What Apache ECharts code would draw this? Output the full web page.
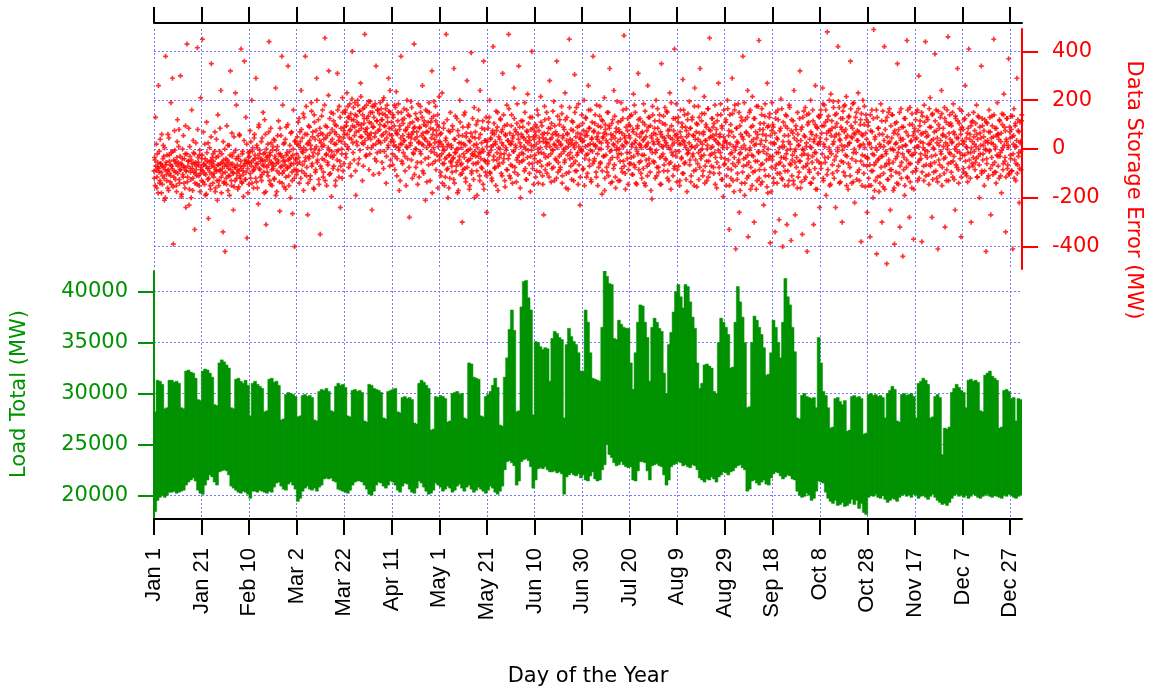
<!DOCTYPE html>
<html>
<head>
<meta charset="utf-8">
<title>Load Total and Data Storage Error</title>
<script src="https://cdn.jsdelivr.net/npm/echarts@6.0.0/dist/echarts.min.js"></script>
<style>
  html, body { margin: 0; padding: 0; background: #fff; }
  #main { width: 1152px; height: 692px; }
</style>
</head>
<body>
<div id="main"></div>
<script>
// x axis ticks: every 20 days
var tickDays = [0, 20, 40, 60, 80, 100, 120, 140, 160, 180, 200, 220, 240, 260, 280, 300, 320, 340, 360];
var tickLabels = ['Jan 1', 'Jan 21', 'Feb 10', 'Mar 2', 'Mar 22', 'Apr 11', 'May 1', 'May 21', 'Jun 10', 'Jun 30',
  'Jul 20', 'Aug 9', 'Aug 29', 'Sep 18', 'Oct 8', 'Oct 28', 'Nov 17', 'Dec 7', 'Dec 27'];
var errorTicks = [-400, -200, 0, 200, 400];
var loadTicks = [20000, 25000, 30000, 35000, 40000];

// daily maximum of load total (MW), day 0 = Jan 1
var loadHigh = [
  28200, 31300, 31200, 30900, 28500, 28600, 31300, 31300, 31100, 31200,
  31000, 28600, 28500, 32200, 32300, 32100, 32000, 31500, 29400, 29300,
  32200, 32400, 32300, 32000, 31600, 28900, 28800, 33000, 33300, 33100,
  32800, 32500, 28600, 28500, 31400, 31500, 31200, 31000, 31300, 30800,
  27800, 31000, 31200, 30900, 30700, 30500, 28200, 28300, 31400, 31500,
  31100, 31200, 30800, 27400, 27500, 29900, 30100, 30000, 29900, 29700,
  27700, 27800, 29800, 29900, 29700, 29800, 29600, 27400, 27300, 30200,
  30400, 30300, 30500, 30200, 28300, 28200, 30700, 31000, 30800, 30900,
  30600, 27800, 27700, 30300, 30400, 30200, 30300, 30100, 27300, 27200,
  30900, 30800, 30500, 30400, 30300, 30100, 27600, 27500, 30200, 30300,
  30400, 30500, 28200, 28100, 29600, 29700, 29500, 29600, 29400, 27100,
  27000, 31000, 31300, 31100, 30800, 30500, 26400, 26500, 29700, 29600,
  29800, 29700, 29500, 27200, 27300, 30000, 30100, 30200, 29900, 30000,
  27600, 27500, 33000, 32900, 31600, 31500, 31400, 27800, 27700, 29700,
  29900, 30200, 30800, 31500, 30600, 26900, 26800, 31600, 33500, 36300,
  38200, 36200, 28200, 28300, 38500, 41000, 41100, 39400, 38200, 27900,
  35100, 35000, 34600, 34300, 34500, 34400, 31200, 35400, 36100, 35900,
  35500, 35300, 27600, 34800, 36400, 35600, 35100, 34800, 34000, 32200,
  32200, 38200, 37000, 34000, 31500, 31400, 31300, 31200, 36500, 42100,
  41500, 40800, 40700, 35400, 35300, 37200, 36800, 36500, 36400, 36400,
  33000, 30400, 34000, 37000, 38700, 38600, 37000, 35500, 31200, 36500,
  37400, 37000, 36400, 36100, 32000, 30000, 34800, 36000, 38000, 40000,
  40700, 39500, 38400, 40700, 40500, 39000, 37500, 36400, 33000, 30500,
  31000, 32800, 32900, 32700, 32500, 30200, 30000, 35000, 37400, 37000,
  36500, 35800, 32500, 32600, 37000, 40500, 39000, 37500, 35000, 28600,
  28700, 35000, 37600, 37200, 36500, 35800, 34500, 31800, 31900, 34000,
  37200, 36500, 35000, 33500, 37000, 41300, 39500, 38700, 36500, 34100,
  27600, 27500, 29800, 30000, 29700, 29600, 29500, 29600, 28600, 35500,
  33000, 30200, 29800, 28600, 26600, 26700, 29500, 29600, 29200, 28900,
  29300, 26300, 26400, 29700, 29800, 29600, 29700, 29500, 26000, 26100,
  29900, 30000, 29800, 29900, 29700, 29800, 29600, 27600, 30000, 30300,
  30700, 30400, 27300, 27200, 29900, 30000, 29800, 29900, 30000, 29700,
  27600, 31000, 31200, 31500, 31300, 30900, 27600, 27700, 29700, 29900,
  29600, 24000, 26600, 26500, 26700, 30100, 30500, 30900, 30600, 30300,
  30100, 28600, 31300, 31400, 31200, 31300, 31100, 28300, 28200, 31800,
  32000, 32200, 31700, 31500, 31300, 26600, 26700, 30300, 30400, 30200,
  29500, 29600, 27300, 29500, 29400
];

// daily minimum of load total (MW)
var loadLow = [
  18400, 19500, 19800, 20000, 19800, 20000, 20300, 20300, 20400, 20200,
  20300, 20400, 20500, 21000, 21300, 21500, 21700, 21400, 20500, 20200,
  20100, 21000, 21500, 22000, 21800, 21300, 21000, 22300, 22400, 22500,
  22400, 22000, 20900, 20700, 20500, 20300, 20200, 20400, 20300, 20100,
  19700, 20400, 20400, 20300, 20500, 20400, 20300, 20200, 20400, 20300,
  20800, 21200, 21300, 20900, 20600, 20500, 21100, 21300, 21000, 20600,
  19400, 19700, 20400, 20700, 20900, 20600, 20500, 20700, 20400, 20800,
  21000, 21600, 21700, 21600, 21700, 21400, 21300, 20600, 20500, 20400,
  20300, 20200, 20500, 21000, 21300, 21400, 21400, 21300, 21000, 20600,
  20100, 20000, 20400, 21000, 21300, 21200, 20900, 20700, 21000, 21400,
  21300, 21000, 20500, 20300, 20900, 21200, 21100, 20600, 20300, 20200,
  20700, 21400, 21200, 20800, 20400, 20100, 20200, 20500, 21200, 21000,
  20800, 20400, 20600, 20900, 20700, 20300, 20500, 20900, 21100, 20700,
  20400, 20800, 21000, 20600, 20300, 20500, 20800, 20600, 20400, 20200,
  20500, 20900, 20700, 20300, 20100, 20400, 20900, 22500, 23300, 23400,
  23200, 22900, 21000, 21400, 23300, 23500, 23600, 23400, 22800, 20700,
  21500, 22600, 22700, 22600, 22800, 22500, 22300, 22300, 22400, 22200,
  22300, 22100, 20100, 21800, 22000, 22200, 22000, 21900, 22100, 21700,
  22000, 21500, 21400, 21900, 22300, 21600, 21400, 21500, 22500, 23000,
  25000, 24000, 23700, 23200, 22900, 23000, 23300, 23000, 22800, 22700,
  22800, 21500, 21400, 22400, 23300, 23300, 23200, 22400, 21500, 22900,
  23000, 23100, 22900, 22800, 22000, 21000, 21500, 22800, 23000, 23100,
  23300, 23200, 22900, 23000, 22800, 22700, 23000, 22900, 22500, 21700,
  21500, 21300, 21600, 21500, 21800, 21600, 21300, 21800, 22000, 22300,
  22200, 22000, 22300, 22400, 22700, 22900, 23000, 22700, 22500, 20400,
  20600, 21400, 21500, 21200, 21000, 21300, 21500, 21100, 21000, 21700,
  22100, 22300, 22200, 21900, 21600, 21800, 22000, 21900, 21600, 21500,
  20400, 20000, 19800, 19900, 20200, 20000, 19500, 19700, 20400, 21400,
  21300, 21200, 20300, 19700, 19400, 19200, 19500, 19000, 19100, 19300,
  18900, 19000, 19200, 19600, 19100, 19500, 18700, 19200, 18300, 18100,
  19800, 20000, 19900, 20100, 19800, 19700, 20000, 19600, 19300, 19500,
  19700, 19600, 19400, 19800, 20000, 20100, 19900, 20000, 19800, 20100,
  20000, 19700, 19900, 20000, 19800, 19600, 19900, 20100, 19800, 19500,
  19300, 19100, 19200, 19000, 19300, 19700, 20000, 20100, 19900, 20000,
  19800, 20000, 19700, 19900, 20100, 20000, 19800, 19700, 19900, 20000,
  20100, 19900, 19800, 20000, 19900, 19800, 19700, 20000, 19900, 20100,
  20000, 19800, 19700, 19900, 20000
];

// data storage error (MW) at hours 3, 9, 15, 21 of each day, 5 days per row
var errorSetA = [
  -120, -45, 130, -88, -160, -20, -75, 260, -95, -140, 40, -60, -180, -70, -110, 15, -30, -210, -85, 380,
  -55, -130, -90, 60, -170, -25, -100, -65, 190, -145, -80, -10, -390, -115, 75, -50, -95, -150, -35, 120,
  -70, 10, -125, -85, 300, -60, -185, -40, -105, 55, -140, -75, -20, -240, -90, 430, -115, -50, 85, -165,
  -30, -95, -200, 160, -80, -120, -15, -60, -330, -100, 25, -70, -145, 80, -55, -110, -25, -175, 210, -85,
  -40, 450, -135, -65, -100, 20, -190, -70, 110, -50, -125, -285, -80, 5, -150, -45, 350, -105, -60, -20,
  -115, -75, 70, -160, -35, -90, -210, 140, -65, -130, -10, -85, 240, -180, -55, -100, 30, -140, -70, -420,
  -60, -120, 95, -45, -170, -80, 15, -110, 320, -65, -150, -30, -95, -250, 50, -75, -130, -5, 180, -100,
  -85, -40, -155, 60, -110, -70, 410, -135, -20, -90, -195, 35, -60, -125, 130, -50, -365, -80, -15, -145,
  -30, 75, -120, -55, 200, -10, -90, -160, 45, -40, -75, 290, -135, 5, -60, -225, 100, -20, -85, -50,
  30, -105, -45, 150, -70, -180, -15, 60, -310, -35, -95, 20, -65, 440, -130, -25, 85, -55, -150, -5,
  -80, 40, -120, -30, 250, -60, -175, 10, -45, 115, -100, -255, -20, 55, -70, -140, 180, -35, -90, 25,
  -50, -165, 90, -15, -75, 340, -110, -40, 15, -200, -60, 70, -130, -25, 160, -85, -400, 35, -45, -105,
  20, -60, 110, -35, -140, 70, 5, 240, -90, 45, -15, -170, 130, -50, 380, -5, -110, 60, -270, 25,
  -40, 90, -125, 15, 190, -70, 50, -30, -160, 140, 0, -95, 75, 290, -55, -20, 120, -145, 35, -350,
  65, -80, 10, 160, -115, 40, -45, 455, 95, -25, -150, 55, -65, 220, -5, 125, -100, 30, -195, 80,
  -35, 145, -70, 20, 100, -130, 60, -10, 310, -85, 35, 175, -50, -240, 85, 0, -120, 150, 45, -60,
  60, 150, -20, 95, 230, 10, 130, -75, 45, 185, 80, -110, 120, 400, 25, 170, -45, 90, 140, -190,
  30, 110, 200, -60, 75, 155, -5, 270, 100, 50, -130, 165, 20, 125, 470, 70, -30, 180, 85, 5,
  135, -85, 55, 195, 40, 105, -250, 150, 15, 90, 175, -40, 65, 340, 115, -15, 160, 35, -100, 80,
  190, 25, 120, -55, 145, 60, 210, -10, 95, 165, -140, 45, 130, 5, 290, 85, -70, 150, 30, 110,
  40, -65, 130, 15, 180, -30, 75, 235, -110, 60, 150, 5, -170, 95, 20, 380, -50, 120, 55, -15,
  165, 35, -90, 80, 10, 200, -40, 140, 60, -280, 105, 25, 45, 170, -120, 70, -20, 430, 90, 0,
  -75, 125, 50, -145, 185, 30, 85, -10, 150, -55, 20, 260, 65, -100, 115, 40, -210, 95, 5, 155,
  70, -35, 190, 15, -130, 110, 45, 320, -60, 80, 135, -15, 25, 175, -85, 55, 100, -160, 30, 215,
  -30, 60, -110, 20, 230, -60, -5, 105, -150, -40, 35, 470, -85, 10, -200, 75, -25, -120, 150, -55,
  5, -95, 80, -35, 330, -140, 40, -15, -70, 125, -180, 0, 55, -45, 200, -105, 25, -60, -300, 90,
  -20, 140, -80, 15, -135, 65, 280, -50, -5, 100, -165, 30, -40, 395, -90, 50, -25, -125, 170, -10,
  70, -60, 20, -190, 115, -30, 45, -110, 240, -15, -75, 85, 0, -145, 360, -45, 35, -95, 130, -260,
  30, -50, 110, -15, 200, -100, 45, 10, -130, 75, 420, -30, 60, -75, 20, 155, -45, 90, -170, 5,
  -60, 40, 125, -20, 70, -110, 310, 15, -40, 95, -155, 55, -5, 180, -85, 35, 470, -25, 65, -120,
  20, 140, -70, 45, -10, 250, -95, 80, 5, -135, 105, -35, 60, 340, -55, 25, -200, 115, -15, 50,
  90, -45, 10, 190, -80, 35, -125, 70, 225, -5, 50, -100, 130, -30, 15, 400, -60, 85, -145, 40,
  -25, 100, 55, -90, 160, 0, -140, 75, 30, -50, 215, -15, 95, -110, 45, -270, 65, 120, -35, 10,
  150, -65, 25, 85, -115, 280, 40, -20, 105, -80, 60, -5, 195, -130, 15, 70, -45, 360, 35, -95,
  55, -30, 120, -75, 20, 175, -140, 45, 90, -10, -55, 230, 5, -100, 130, 60, -165, 25, 450, -40,
  -15, 80, -125, 35, 110, -60, 15, 305, -90, 50, 170, -25, 65, -145, 10, 95, -230, 40, -5, 140,
  30, -85, 75, 200, -40, 10, 125, -115, 55, -20, 260, 85, -70, 20, 160, -135, 45, -10, 380, 70,
  -50, 105, 15, -95, 180, 40, -150, 65, 0, 135, -60, 90, 25, -185, 115, 50, -30, 210, -120, 80,
  35, -75, 150, 10, -110, 95, 330, -45, 60, -5, -135, 120, 20, 240, -65, 45, -160, 85, 5, -35,
  110, -20, 70, -130, 40, 190, -80, 15, 125, -50, 465, 55, -100, 30, 165, -15, 75, -145, 100, -60,
  45, 135, -35, 10, -105, 80, 225, -65, 25, 150, -140, 60, -10, 95, 310, -85, 20, 125, -50, 5,
  -120, 70, 35, 185, -25, 100, -150, 50, 15, -70, 260, 90, -40, 130, -95, 0, 55, -205, 175, 30,
  65, -55, 115, -15, 200, -110, 40, 85, -75, 20, 140, -145, 60, 350, -30, 105, 10, -90, 45, 170,
  -40, 25, 155, -120, 75, 5, -60, 230, 45, -165, 95, 15, -25, 125, -80, 410, 55, -10, 185, -135,
  35, 110, -70, 20, -130, 160, 50, -35, 90, 285, -100, 30, 140, -55, 5, 75, -175, 120, -15, 60,
  195, -45, 85, -110, 10, 130, -20, 55, -150, 250, 40, -85, 105, 15, -60, 175, -125, 65, 330, -5,
  -30, 145, 20, -90, 70, 215, -140, 35, 100, -50, 0, 165, -115, 80, 455, -25, 50, -70, 125, 10,
  90, -100, 40, 180, -35, 60, -160, 115, 25, 270, -75, 50, -15, 140, -125, 85, 5, -195, 160, 30,
  -40, 110, -150, 25, 200, -80, 55, -330, 140, -20, -120, 70, 290, -60, 10, -175, 160, -5, -410, 85,
  30, -100, 185, -45, -260, 95, -15, 130, -140, 50, 380, -70, 15, -190, 120, -35, 65, -120, 240, -360,
  -55, 150, 5, -165, 90, -25, 215, -95, 40, -300, 125, -50, 20, 175, -130, 60, -10, 445, -85, 105,
  -145, 35, 165, -60, 80, -230, 10, 135, -110, 55, -20, 270, -180, 95, -40, 145, -385, 25, -75, 190,
  -30, 90, -140, 20, -340, 125, -65, 45, -100, 160, -15, -290, 75, -55, 205, -120, 10, -400, 110, -35,
  55, -90, 140, -20, -310, 85, -150, 30, 180, -60, 0, -375, 120, -45, 65, -130, 240, -10, -270, 95,
  -75, 35, 150, -115, 15, -50, 320, -160, 80, -25, -350, 130, -5, 55, -125, 170, -70, 25, -420, 100,
  -40, 145, -95, 10, 200, -140, 60, -30, 115, -310, 40, -80, 260, -15, 90, -165, 20, 135, -55, -240,
  45, 160, -60, 95, 250, -120, 20, 180, -35, 110, -190, 65, 480, -85, 135, 5, -150, 75, 225, -20,
  85, -100, 195, 30, -45, 140, -240, 60, 105, -10, 420, -70, 170, 40, -135, 90, 15, -300, 125, -55,
  175, 10, -110, 80, 215, -30, 55, -165, 130, 25, -75, 360, 95, -140, 45, 185, -15, 65, -220, 110,
  -50, 150, 35, -95, 230, 70, -130, 15, 120, -380, 60, -25, 200, -65, 100, 5, -155, 140, 40, -260,
  -40, 110, -150, 25, -360, 75, -90, 160, -20, -200, 490, -65, 40, -130, 5, -430, 130, -45, 85, -175,
  20, -110, 185, -30, -300, 60, -155, 10, 420, -70, 115, -20, -470, 50, -125, 150, -60, 30, -250, 95,
  -85, 140, 0, -170, 65, -390, 105, -40, 25, -140, 350, -15, 80, -100, -320, 45, 165, -55, 10, -440,
  90, -35, -190, 125, 15, -75, 445, -120, 55, -10, -280, 170, -60, 35, -160, 100, -25, -370, 70, 5,
  40, -90, 150, 10, -130, 75, 300, -45, 115, -20, 60, -380, 135, 25, -70, 180, -5, 440, -110, 50,
  -35, 120, 20, -145, 90, 210, -60, 35, -280, 145, 5, -95, 70, 390, -25, 160, -120, 45, -410, 100,
  15, -65, 130, -10, 240, -150, 55, 85, -40, 170, -320, 25, 110, -85, 0, 460, -130, 65, 140, -20,
  -55, 95, 30, -115, 185, -30, 60, -250, 125, 10, -75, 330, 45, -140, 105, -15, 80, -360, 155, 35,
  20, -80, 120, -25, 260, -100, 45, 5, -135, 85, 410, -45, 60, -15, -300, 110, 30, -70, 150, -10,
  75, -55, 10, 180, -115, 40, -30, 130, -200, 65, 15, 340, -90, 95, -20, 50, -150, 120, 0, -420,
  -40, 105, 25, -110, 160, -5, 70, -270, 45, 135, -65, 20, 450, -95, 85, 10, -140, 55, 190, -30,
  60, -120, 115, -15, 30, -180, 145, 5, -60, 225, 90, -35, -340, 40, 125, -80, 15, 370, -105, 70,
  -25, 135, -90, 50, -410, 20, 165, -45, 95, -130, 10, 290, -65, 75, -15, -220, 110, 30, -85, 140
];

// data storage error (MW) at hours 0, 6, 12, 18 of each day, 5 days per row
var errorSetB = [
  -90, -35, -150, -70, 20, -115, -55, -180, -80, -10, -130, -60, -95, 60, -145, -40, -75, -120, 5, -200,
  -65, -105, -25, -160, -85, 45, -50, -135, -110, -15, -70, 290, -155, -45, -90, -5, -125, -60, -175, 30,
  -100, -55, 80, -140, -30, -85, -195, -65, 0, -115, -75, -40, -160, 95, -90, -20, -135, -70, -50, -230,
  10, -80, -125, -45, -60, -170, 35, -95, -20, -140, -55, -85, -110, 415, -35, -65, -150, -5, -100, -75,
  -130, -25, -90, 70, -60, -145, -40, -105, -185, -15, -80, 25, -120, -55, -95, -165, 50, -70, -35, -140,
  -50, -100, -10, -175, -85, 40, -130, -65, -30, -150, -90, 85, -60, -115, -20, -80, -340, -45, -135, 0,
  -95, -40, -145, -70, 15, -110, -55, -190, -25, -85, -130, 65, -60, -100, -15, -155, -75, 230, -40, -120,
  -65, -165, -30, -90, 55, -120, -50, -80, -140, -10, -105, -70, 360, -45, -125, -95, 20, -60, -180, -35,
  -55, -10, -100, 30, -70, -140, 5, -45, -85, 60, -25, -120, -60, 15, -160, -35, 90, -80, -5, -115,
  -40, -130, 45, -65, -20, -95, 120, -50, -175, 0, -75, -30, -110, 70, -45, -15, -145, 25, -85, -60,
  10, -70, -125, 35, -40, -190, -5, -90, 55, -55, -20, -135, 85, -75, -30, 380, -100, -50, 20, -155,
  -65, 40, -115, -25, -80, 100, -45, -150, -10, -70, 65, -35, -95, -265, 0, -60, -120, 30, -40, -85,
  -20, 50, -90, 15, 125, -55, 30, -120, 80, -10, -65, 145, 5, -100, 60, -35, 175, -75, 20, -140,
  95, -30, 35, -110, 0, 155, -60, 70, -15, -165, 110, 40, -85, 10, 200, -45, 55, -125, -5, 85,
  -70, 25, 135, -40, 60, -95, 15, 180, -130, 45, -20, 90, -55, 5, 320, -105, 65, -30, 150, -10,
  40, -80, 115, -25, 70, -150, 20, 95, -45, 160, -5, -115, 50, 130, -70, 30, -20, 210, -90, 75,
  90, 20, 160, -35, 110, 60, 175, 0, 130, 75, -60, 145, 40, 205, 95, -15, 120, 55, 190, -90,
  70, 135, 15, 180, 100, -40, 155, 50, 215, 85, 25, 140, -70, 105, 170, 35, 80, -25, 125, 60,
  45, 195, 110, -20, 150, 65, 5, 175, 90, -105, 130, 50, 185, 20, -50, 115, 160, 75, 30, 145,
  100, -10, 165, 55, 120, 200, -80, 95, 35, 140, 70, -30, 180, 110, 15, 155, 60, 240, -45, 85,
  55, -20, 140, 30, 95, -85, 170, 10, 65, -40, 115, 185, -5, 80, -130, 45, 150, 20, -60, 105,
  35, 125, -30, 75, -150, 160, 5, 90, 50, -75, 135, 15, 195, -45, 60, 110, -15, 85, -105, 40,
  145, 0, 70, -55, 120, 25, -115, 90, 175, -20, 55, 130, -90, 15, 100, 45, -40, 160, 70, -135,
  30, 110, -65, 150, 20, 85, -10, 125, -180, 60, 5, 195, 40, -50, 115, 75, -25, 140, 10, 90,
  -45, 30, -95, 65, -20, -140, 10, 85, -60, -5, -115, 45, -35, 120, -80, 20, -160, -25, 70, -50,
  15, -70, 95, -40, -125, 40, -15, 135, -90, 0, -55, 75, -170, 25, -30, 110, -65, 5, -100, 55,
  -85, 20, -35, 150, -120, 50, -10, -75, 90, -45, 35, -150, 0, 65, -100, -20, 125, -60, 15, -200,
  45, -30, 100, -90, 5, -55, 160, -15, -130, 60, -40, 25, -80, 115, -10, -165, 80, -50, 35, -110,
  10, -60, 85, -25, 130, -95, 40, -5, -120, 65, 15, -45, 105, -80, 30, -150, 75, -15, 150, -70,
  50, -35, 0, 120, -100, 25, 80, -55, 140, -20, -130, 60, 5, -85, 100, 35, -40, 165, -110, 20,
  -65, 95, 30, -140, 55, -10, 125, -75, 15, 70, -45, 185, -105, 40, -25, 90, -160, 10, 60, -50,
  115, -20, 45, -90, 150, 0, -125, 75, -35, 25, 105, -60, 35, -175, 80, -5, 130, -80, 50, 10,
  -40, 70, -115, 20, 90, -55, 140, -15, 45, -95, 5, 110, -70, 60, -145, 30, -20, 175, -85, 40,
  25, -100, 65, -30, 125, -60, 10, 85, -135, 45, -5, 155, -75, 20, 95, -40, 60, -120, 5, 135,
  -55, 30, 100, -85, 15, -20, 145, -110, 55, 0, 80, -45, 120, -160, 35, 65, -25, 10, -95, 170,
  40, -70, 20, 115, -35, 75, -130, 5, 150, -50, 25, -90, 90, -15, 185, -65, 45, -115, 60, 0,
  -10, 105, -80, 35, -150, 55, 130, -25, 70, -100, 15, 160, -45, 85, -5, -125, 40, 110, -60, 20,
  75, -40, 140, 10, -115, 50, -20, 95, -75, 30, 175, -55, 0, 120, -90, 45, -30, 65, -170, 100,
  -25, 60, -95, 25, 150, -60, 85, -10, -140, 40, 105, -35, 55, -80, 15, 135, -115, 70, -5, 195,
  30, -130, 80, 0, -50, 115, -20, 65, -95, 160, 10, -70, 45, -165, 90, 25, -40, 125, -85, 55,
  -15, 95, -60, 140, 20, -105, 70, -30, 180, -75, 35, 5, -145, 85, -20, 120, -55, 50, 15, -100,
  65, -25, 110, -80, 40, -140, 155, 10, -45, 75, -110, 25, 130, -60, 0, 95, -170, 45, -15, 140,
  -50, 20, 85, -120, 60, -5, -75, 165, 30, -95, 115, -35, 70, -145, 10, 50, -20, 135, -65, 35,
  100, -45, 15, 150, -90, 55, -130, 80, 0, -55, 190, -15, 40, -110, 75, 25, -70, 125, -30, 60,
  -85, 45, 130, -10, -150, 70, 20, -40, 105, -100, 35, 160, -60, 15, 90, -125, 50, -20, 145, -5,
  25, -65, 85, -135, 10, 120, -30, 55, -90, 175, 5, -45, 70, -155, 100, 40, -15, 130, -75, 30,
  -40, 115, 0, -110, 60, -25, 145, -70, 35, 90, -130, 15, 165, -50, 45, -95, 75, 5, -20, 125,
  55, -75, 105, -15, -145, 35, 80, -55, 140, -5, 20, -100, 60, 185, -35, 95, -125, 15, 50, -65,
  -60, 35, 120, -110, 5, 165, -45, 75, -150, 20, 100, -85, -15, 145, -130, 50, -35, 180, -70, 10,
  85, -125, 25, -55, 150, -20, -170, 60, 5, 115, -95, 40, -40, 190, -140, 0, 70, -65, 130, -25,
  -110, 55, -5, 160, -75, 30, -150, 95, -30, 125, 15, -90, 70, -165, 45, -50, 175, -15, -120, 80,
  20, -65, 140, -135, 60, -10, 105, -85, 185, 35, -45, -155, 90, 0, -110, 130, -30, 55, -175, 75,
  -45, 100, -120, 25, 65, -80, 150, -15, -140, 40, 120, -60, 5, -100, 85, -35, 165, -125, 30, -70,
  10, -150, 95, -40, 135, -5, -90, 55, -130, 170, 20, -65, 75, -110, -25, 115, -145, 45, -55, 0,
  80, -35, -160, 60, 15, -95, 125, -50, 35, -135, 90, 0, -75, 155, -20, 50, -115, 10, 140, -60,
  -25, 110, -85, 40, -140, 70, 5, -55, 160, -120, 30, -15, 100, -165, 55, -45, 85, -100, 20, 130,
  30, 140, -80, 65, -20, 185, -130, 95, 10, -55, 160, 40, -105, 120, -35, 75, 200, -10, -145, 55,
  115, -65, 20, 170, -120, 50, 90, -30, 145, -90, 5, 195, 60, -140, 35, 125, -50, 80, -5, 155,
  -95, 70, 180, -25, 45, -150, 110, 15, -60, 135, 25, -110, 165, 50, -40, 85, -135, 190, 0, 60,
  130, -15, -125, 75, 35, 165, -85, 10, 100, -50, 145, -150, 55, 20, -100, 175, -30, 65, 120, -70,
  -35, 95, -120, 20, -65, 140, -150, 5, 70, -90, 125, -25, -170, 50, -55, 160, -5, -115, 85, -40,
  60, -140, 10, -75, 115, -30, 155, -100, 35, -165, 80, -10, -60, 130, -125, 25, -45, 165, -85, 0,
  -110, 45, 140, -55, -5, -160, 75, 20, -95, 110, -30, 60, -145, 5, 150, -70, 35, -120, 90, -20,
  40, -85, 125, -150, 15, 70, -45, -115, 160, -10, -60, 100, -135, 30, -25, 145, -95, 55, -165, 85,
  -15, 120, -80, 45, 160, -55, 10, -120, 95, 30, -40, 150, -95, 65, 5, -130, 110, -25, 70, -65,
  130, -10, 55, -105, 165, 20, -70, 90, -30, 140, -125, 40, 0, -55, 115, -90, 75, 25, -135, 155,
  -45, 85, -110, 35, -20, 145, -75, 60, 10, -100, 125, -35, 50, -130, 160, 15, -60, 100, -15, 40,
  105, -95, 25, 150, -50, 70, -125, 0, 135, -65, 45, -10, 115, -85, 20, 165, -40, 60, -115, 90,
  -25, 80, -95, 30, 125, -50, 10, -110, 65, -15, 140, -75, 40, -120, 95, 5, -60, 115, -35, 50,
  20, -85, 105, -40, 60, -115, 135, 0, -65, 90, -20, 45, -100, 125, -45, 15, 75, -90, 30, -5,
  110, -60, 35, -120, 70, -10, 130, -80, 25, -35, 95, -105, 50, 140, -55, 0, -95, 85, -25, 60,
  -70, 40, 120, -30, -110, 65, -5, 100, -85, 140, 15, -50, 75, -115, 30, 125, -65, 5, -100, 90,
  45, -40, 80, -90, 135, -20, 55, -120, 10, 105, -60, 35, -100, 120, -30, 70, -80, 25, -10, 115
];

var GREEN = '#009200';
var RED = '#ff0000';
var gridLineStyle = { color: '#7878ff', width: 1, type: [2, 2] };
var tickFont = 'DejaVu Sans';
var plain = function (v) { return String(v); };
var crossSymbol = 'path://M1,0H2V1H3V2H2V3H1V2H0V1H1Z';

function errorPoints(values, hourOffset) {
  return values.map(function (v, i) { return [i / 4 + hourOffset / 24, v]; });
}

var chart = echarts.init(document.getElementById('main'));

chart.setOption({
  animation: false,
  backgroundColor: '#ffffff',
  grid: [
    { left: 154, right: 130, top: 29, height: 240 },
    { left: 154, right: 130, top: 271, height: 248 }
  ],
  xAxis: [
    {
      gridIndex: 0, type: 'value', min: 0, max: 365, position: 'top', offset: 6,
      axisLine: { show: true, onZero: false, lineStyle: { color: '#000', width: 2 } },
      axisTick: { show: true, customValues: tickDays, length: 16, lineStyle: { color: '#000', width: 2 } },
      axisLabel: { show: false },
      splitLine: { show: true, customValues: tickDays, lineStyle: gridLineStyle }
    },
    {
      gridIndex: 1, type: 'value', min: 0, max: 365, position: 'bottom',
      axisLine: { show: true, onZero: false, lineStyle: { color: '#000', width: 2 } },
      axisTick: { show: true, customValues: tickDays, length: 16, lineStyle: { color: '#000', width: 2 } },
      axisLabel: {
        customValues: tickDays, rotate: 90, margin: 29, color: '#000',
        fontFamily: 'Liberation Sans', fontSize: 22,
        formatter: function (v) { return tickLabels[tickDays.indexOf(v)] || ''; }
      },
      splitLine: { show: true, customValues: tickDays, lineStyle: gridLineStyle }
    }
  ],
  yAxis: [
    {
      gridIndex: 0, type: 'value', position: 'right', min: -492, max: 492,
      axisLine: { show: true, onZero: false, lineStyle: { color: RED, width: 2 } },
      axisTick: { show: true, customValues: errorTicks, length: 16, lineStyle: { color: RED, width: 2 } },
      axisLabel: { customValues: errorTicks, margin: 30, color: RED, fontFamily: tickFont, fontSize: 21, formatter: plain },
      splitLine: { show: true, customValues: errorTicks, lineStyle: gridLineStyle }
    },
    {
      gridIndex: 1, type: 'value', position: 'left', min: 17670, max: 42030,
      axisLine: { show: true, onZero: false, lineStyle: { color: GREEN, width: 2 } },
      axisTick: { show: true, customValues: loadTicks, length: 16, lineStyle: { color: GREEN, width: 2 } },
      axisLabel: { customValues: loadTicks, margin: 26, color: GREEN, fontFamily: tickFont, fontSize: 21, formatter: plain },
      splitLine: { show: true, customValues: loadTicks, lineStyle: gridLineStyle }
    }
  ],
  graphic: [
    {
      type: 'text', x: 20, y: 394, rotation: Math.PI / 2,
      style: { text: 'Load Total (MW)', fill: GREEN, font: '21px "DejaVu Sans"', align: 'center', verticalAlign: 'middle' }
    },
    {
      type: 'text', x: 1133, y: 190, rotation: -Math.PI / 2,
      style: { text: 'Data Storage Error (MW)', fill: RED, font: '21px "DejaVu Sans"', align: 'center', verticalAlign: 'middle' }
    },
    {
      type: 'text', x: 588, y: 677,
      style: { text: 'Day of the Year', fill: '#000', font: '21px "DejaVu Sans"', align: 'center', verticalAlign: 'middle' }
    }
  ],
  series: [
    {
      // daily load band: one rect per day from daily min to daily max
      type: 'custom', xAxisIndex: 1, yAxisIndex: 1, silent: true, clip: true,
      encode: { x: 0, y: [1, 2] },
      data: loadHigh.map(function (h, d) { return [d, loadLow[d], h]; }),
      renderItem: function (params, api) {
        var lo = api.coord([api.value(0), api.value(1)]);
        var hi = api.coord([api.value(0) + 1, api.value(2)]);
        return {
          type: 'rect',
          shape: { x: lo[0] - 0.3, y: hi[1], width: hi[0] - lo[0] + 0.6, height: lo[1] - hi[1] },
          style: { fill: GREEN, stroke: GREEN, lineWidth: 0.5 }
        };
      }
    },
    {
      type: 'scatter', xAxisIndex: 0, yAxisIndex: 0, silent: true,
      symbol: crossSymbol, symbolSize: 5,
      itemStyle: { color: RED },
      data: errorPoints(errorSetB, 0)
    },
    {
      type: 'scatter', xAxisIndex: 0, yAxisIndex: 0, silent: true,
      symbol: crossSymbol, symbolSize: 5,
      itemStyle: { color: RED },
      data: errorPoints(errorSetA, 3)
    }
  ]
});
</script>
</body>
</html>
